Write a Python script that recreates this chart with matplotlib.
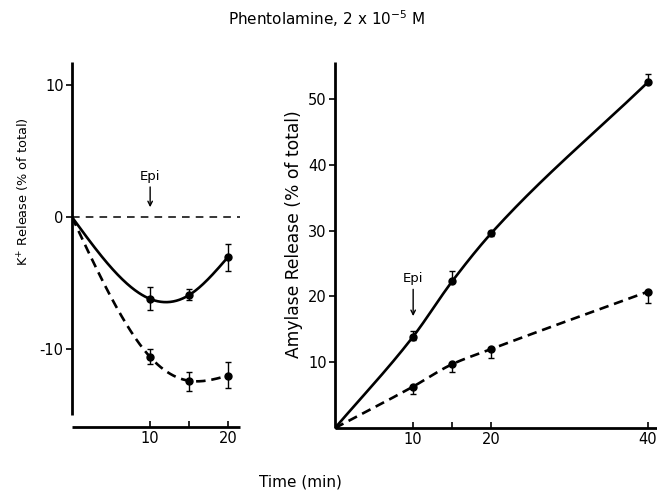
import numpy as np
import matplotlib
matplotlib.use("Agg")
import matplotlib.pyplot as plt

plt.rcParams['font.family'] = ['DejaVu Sans']

# ---- data ----
time_k = [0, 10, 15, 20]
k_epi = [0, -6.2, -5.9, -3.0]
k_epi_err_lo = [0, 0.8, 0.4, 1.05]
k_epi_err_hi = [0, 0.9, 0.45, 0.95]
k_ctrl = [0, -10.6, -12.4, -12.0]
k_ctrl_err_lo = [0, 0.5, 0.8, 0.95]
k_ctrl_err_hi = [0, 0.6, 0.7, 1.05]

time_a = [0, 10, 15, 20, 40]
amy_epi = [0, 13.9, 22.3, 29.6, 52.5]
amy_epi_err_lo = [0, 0.6, 0, 0.4, 0]
amy_epi_err_hi = [0, 0.8, 1.5, 0.4, 1.3]
amy_ctrl = [0, 6.3, 9.7, 12.0, 20.7]
amy_ctrl_err_lo = [0, 1.1, 1.2, 1.4, 1.7]
amy_ctrl_err_hi = [0, 0, 0, 0, 0]

k_ticks = [-10, 0, 10]
a_yticks = [10, 20, 30, 40, 50]
k_xticks = [10, 15, 20]
k_xticklabels = ['10', '', '20']
a_xticks = [10, 15, 20, 40]
a_xticklabels = ['10', '', '20', '40']


def natural_spline(x, y, n=200):
    x = np.asarray(x, float)
    y = np.asarray(y, float)
    m = len(x)
    h = np.diff(x)
    A = np.zeros((m, m))
    b = np.zeros(m)
    A[0, 0] = A[-1, -1] = 1
    for i in range(1, m - 1):
        A[i, i - 1] = h[i - 1]
        A[i, i] = 2 * (h[i - 1] + h[i])
        A[i, i + 1] = h[i]
        b[i] = 3 * ((y[i + 1] - y[i]) / h[i] - (y[i] - y[i - 1]) / h[i - 1])
    c = np.linalg.solve(A, b)
    xs = np.linspace(x[0], x[-1], n)
    ys = np.empty_like(xs)
    for j, xv in enumerate(xs):
        i = min(np.searchsorted(x, xv, side='right') - 1, m - 2)
        dx = xv - x[i]
        bi = (y[i + 1] - y[i]) / h[i] - h[i] * (2 * c[i] + c[i + 1]) / 3
        di = (c[i + 1] - c[i]) / (3 * h[i])
        ys[j] = y[i] + bi * dx + c[i] * dx ** 2 + di * dx ** 3
    return xs, ys


def pchip(x, y, n=200):
    x = np.asarray(x, float)
    y = np.asarray(y, float)
    h = np.diff(x)
    delta = np.diff(y) / h
    m = len(x)
    d = np.zeros(m)
    for k in range(1, m - 1):
        if delta[k - 1] * delta[k] > 0:
            w1 = 2 * h[k] + h[k - 1]
            w2 = h[k] + 2 * h[k - 1]
            d[k] = (w1 + w2) / (w1 / delta[k - 1] + w2 / delta[k])
    d[0] = delta[0]
    d[-1] = delta[-1]
    xs = np.linspace(x[0], x[-1], n)
    ys = np.empty_like(xs)
    for j, xv in enumerate(xs):
        i = min(np.searchsorted(x, xv, side='right') - 1, m - 2)
        t = (xv - x[i]) / h[i]
        h00 = 2 * t ** 3 - 3 * t ** 2 + 1
        h10 = t ** 3 - 2 * t ** 2 + t
        h01 = -2 * t ** 3 + 3 * t ** 2
        h11 = t ** 3 - t ** 2
        ys[j] = h00 * y[i] + h10 * h[i] * d[i] + h01 * y[i + 1] + h11 * h[i] * d[i + 1]
    return xs, ys


fig = plt.figure(figsize=(6.57, 4.93), dpi=100)
fig.patch.set_facecolor('white')

lw = 1.9
dash = (3.6, 2.2)
ebkw = dict(fmt='none', ecolor='black', elinewidth=1.0, capsize=2.2, capthick=1.0)

# ---- left panel ----
ax1 = fig.add_axes([0.1096, 0.1339, 0.2557, 0.7403])
ax1.set_xlim(0, 21.5)
ax1.set_ylim(-15.9, 11.75)
xs, ys = natural_spline(time_k, k_epi)
ax1.plot(xs, ys, color='black', lw=lw, solid_capstyle='round')
xs, ys = natural_spline(time_k, k_ctrl)
ax1.plot(xs, ys, color='black', lw=lw, dashes=dash)
ax1.plot(time_k[1:], k_epi[1:], 'o', color='black', ms=5)
ax1.plot(time_k[1:], k_ctrl[1:], 'o', color='black', ms=5)
ax1.errorbar(time_k[1:], k_epi[1:], yerr=[k_epi_err_lo[1:], k_epi_err_hi[1:]], **ebkw)
ax1.errorbar(time_k[1:], k_ctrl[1:], yerr=[k_ctrl_err_lo[1:], k_ctrl_err_hi[1:]], **ebkw)
ax1.axhline(0, color='black', lw=1.1, dashes=(5, 4))
ax1.annotate('Epi', xy=(10, 0.75), xytext=(10, 2.6), ha='center', va='bottom',
             fontsize=9.5,
             arrowprops=dict(arrowstyle='->', color='black', lw=1.0,
                             shrinkA=1, shrinkB=0, mutation_scale=8))
ax1.spines['top'].set_visible(False)
ax1.spines['right'].set_visible(False)
ax1.spines['left'].set_bounds(-15.0, 11.75)
ax1.spines['left'].set_linewidth(2.0)
ax1.spines['bottom'].set_linewidth(2.0)
ax1.set_yticks(k_ticks)
ax1.set_yticklabels(['-10', '0', '10'])
ax1.set_xticks(k_xticks)
ax1.set_xticklabels(k_xticklabels)
ax1.tick_params(axis='y', direction='out', length=4, width=1.2, labelsize=10.5, pad=2)
ax1.tick_params(axis='x', direction='in', length=4, width=1.2, labelsize=10.5, pad=3)
ax1.set_ylabel('K$^{+}$ Release (% of total)', fontsize=9.3)
ax1.yaxis.set_label_coords(-0.238, 0.644)

# ---- right panel ----
ax2 = fig.add_axes([0.5099, 0.1318, 0.4901, 0.7424])
ax2.set_xlim(0, 41.2)
ax2.set_ylim(0, 55.6)
xs, ys = pchip(time_a, amy_epi)
ax2.plot(xs, ys, color='black', lw=lw)
xs, ys = pchip(time_a, amy_ctrl)
ax2.plot(xs, ys, color='black', lw=lw, dashes=dash)
ax2.plot(time_a, amy_epi, 'o', color='black', ms=5)
ax2.plot(time_a[1:], amy_ctrl[1:], 'o', color='black', ms=5)
ax2.errorbar(time_a[1:], amy_epi[1:], yerr=[amy_epi_err_lo[1:], amy_epi_err_hi[1:]], **ebkw)
ax2.errorbar(time_a[1:], amy_ctrl[1:], yerr=[amy_ctrl_err_lo[1:], amy_ctrl_err_hi[1:]], **ebkw)
ax2.annotate('Epi', xy=(10, 17.0), xytext=(10, 21.7), ha='center', va='bottom',
             fontsize=9.5,
             arrowprops=dict(arrowstyle='->', color='black', lw=1.0,
                             shrinkA=1, shrinkB=0, mutation_scale=8))
ax2.spines['top'].set_visible(False)
ax2.spines['right'].set_visible(False)
ax2.spines['left'].set_linewidth(2.0)
ax2.spines['bottom'].set_linewidth(2.0)
ax2.set_yticks(a_yticks)
ax2.set_xticks(a_xticks)
ax2.set_xticklabels(a_xticklabels)
ax2.tick_params(axis='y', direction='out', length=4, width=1.2, labelsize=10.5, pad=2)
ax2.tick_params(axis='x', direction='in', length=4, width=1.2, labelsize=10.5, pad=3)
ax2.set_ylabel('Amylase Release (% of total)', fontsize=12.3)
ax2.yaxis.set_label_coords(-0.099, 0.53)
for a in (ax1, ax2):
    a.set_facecolor('none')
    for s in a.spines.values():
        s.set_capstyle('butt')

fig.text(0.497, 0.962, 'Phentolamine, 2 x 10$^{-5}$ M', ha='center', va='center', fontsize=11)
fig.text(0.458, 0.022, 'Time (min)', ha='center', va='center', fontsize=11)

fig.savefig('out.png', dpi=100, facecolor='white')
